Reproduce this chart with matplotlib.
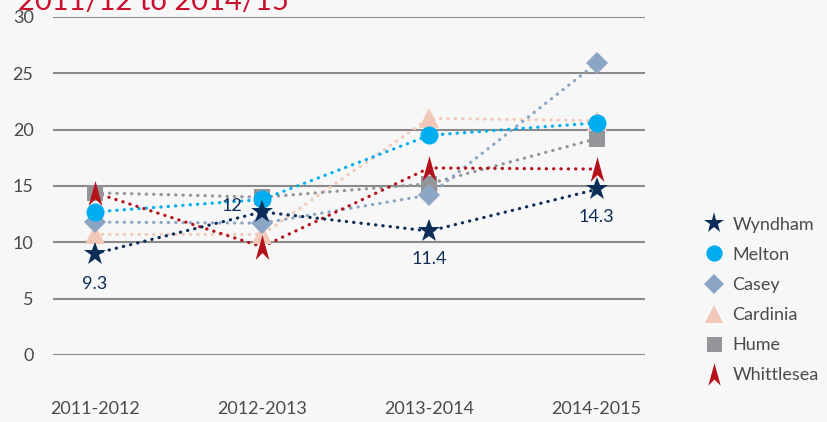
import numpy as np
import matplotlib.pyplot as plt
from matplotlib.path import Path

plt.rcParams['font.family'] = ['Lato', 'DejaVu Sans']

years = ['2011-2012', '2012-2013', '2013-2014', '2014-2015']
wyndham = [9.0, 12.7, 11.0, 14.7]
melton = [12.7, 13.8, 19.5, 20.6]
casey = [11.8, 11.7, 14.2, 25.9]
cardinia = [10.7, 10.7, 21.0, 20.8]
hume = [14.4, 14.0, 15.2, 19.2]
whittlesea = [14.4, 9.6, 16.6, 16.5]
wyndham_labels = ['9.3', '12', '11.4', '14.3']

# arrow head marker for Whittlesea
arrow = Path([(0, 1), (0.55, -1), (0, -0.45), (-0.55, -1), (0, 1)],
             [Path.MOVETO, Path.LINETO, Path.LINETO, Path.LINETO, Path.CLOSEPOLY])

series = [
    ('Wyndham', wyndham, '#0b2d57', '*', 17),
    ('Melton', melton, '#00aeef', 'o', 13),
    ('Casey', casey, '#8da5c5', 'D', 11),
    ('Cardinia', cardinia, '#f2c9b9', '^', 15),
    ('Hume', hume, '#939598', 's', 12),
    ('Whittlesea', whittlesea, '#b5121b', arrow, 18),
]

fig = plt.figure(figsize=(8.27, 4.22), dpi=100)
fig.patch.set_facecolor('#f7f7f7')
ax = fig.add_axes([0.0641, 0.1588, 0.716, 0.801])
ax.set_facecolor('#f7f7f7')

x = np.arange(len(years))
order = [3, 4, 2, 1, 5, 0]
for i in order:
    name, vals, col, mk, ms = series[i]
    ax.plot(x, vals, color=col, lw=2.3, linestyle=(0, (0.1, 2.2)),
            dash_capstyle='round', zorder=2)
for i in order:
    name, vals, col, mk, ms = series[i]
    ax.plot(x, vals, color=col, lw=0, marker=mk, markersize=ms,
            markeredgewidth=0, zorder=3)

# data labels for Wyndham
offs = [(0, -22), (-22, 4), (0, -20), (0, -20)]
for xi, v, t, o in zip(x, wyndham, wyndham_labels, offs):
    ax.annotate(t, (xi, v), xytext=o, textcoords='offset points',
                ha='center', va='center', fontsize=13, color='#0b2d57')

ax.set_xlim(-0.25, 3.29)
ax.set_ylim(0, 30)
ax.set_yticks(range(0, 31, 5))
ax.yaxis.grid(True, color='#8a8a8a', lw=1.5)
ax.set_axisbelow(True)
for s in ax.spines.values():
    s.set_visible(False)
ax.tick_params(length=0, labelsize=13, labelcolor='#4a4a4a')
ax.tick_params(axis='y', pad=14)
ax.tick_params(axis='x', pad=33)
ax.set_xticks(x)
ax.set_xticklabels(years)

# legend
handles = []
for name, vals, col, mk, ms in series:
    h, = ax.plot([], [], lw=0, marker=mk, color=col, markersize=ms * 0.9,
                 markeredgewidth=0, label=name)
    handles.append(h)
fig.legend(handles=handles, loc='upper left', bbox_to_anchor=(0.833, 0.525),
           frameon=False, fontsize=13, labelcolor='#4a4a4a',
           handlelength=1.0, handletextpad=0.5, labelspacing=0.78)

fig.text(0.022, 0.977, '2011/12 to 2014/15', color='#c8102e', fontsize=21,
         va='baseline', ha='left')

fig.savefig('out.png', dpi=100, facecolor=fig.get_facecolor())
